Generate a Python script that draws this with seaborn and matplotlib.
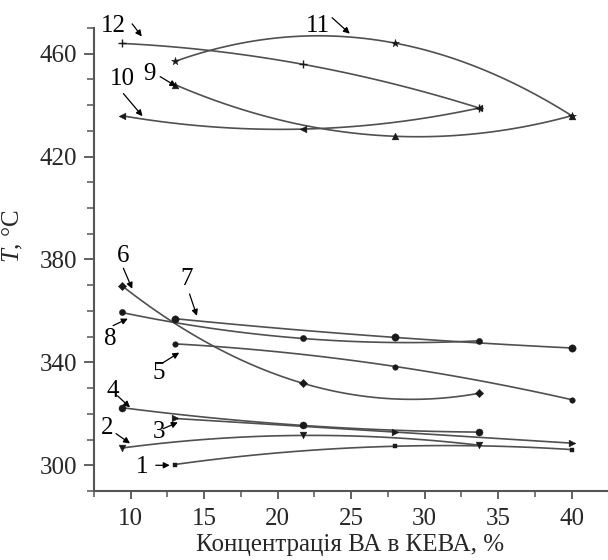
import numpy as np
import pandas as pd
import matplotlib
matplotlib.use("Agg")
import matplotlib.pyplot as plt
import seaborn as sns
from matplotlib.ticker import MultipleLocator

sns.set_theme(style="ticks")
plt.rcParams['font.family'] = ['Liberation Serif', 'DejaVu Serif']
plt.rcParams['mathtext.fontset'] = 'custom'
plt.rcParams['mathtext.rm'] = 'Liberation Serif'
plt.rcParams['mathtext.it'] = 'Liberation Serif:italic'

# ---- data ----
x_even = [9.4, 21.7, 33.7]
x_odd = [13.0, 28.0, 40.0]
t1 = [300.3, 307.4, 306.1]
t2 = [306.7, 311.6, 307.8]
t3 = [318.2, 312.9, 308.6]
t4 = [322.4, 315.5, 312.9]
t5 = [347.2, 338.4, 325.5]
t6 = [369.8, 331.9, 328.0]
t7 = [357.0, 349.7, 345.6]
t8 = [359.4, 349.3, 348.4]
t9 = [448.0, 427.9, 435.9]
t10 = [435.9, 430.7, 438.9]
t11 = [457.0, 464.1, 435.9]
t12 = [464.0, 455.9, 438.9]
series_names = ['1', '2', '3', '4', '5', '6', '7', '8', '9', '10', '11', '12']
series_y = [t1, t2, t3, t4, t5, t6, t7, t8, t9, t10, t11, t12]
series_x = [x_odd, x_even, x_odd, x_even, x_odd, x_even,
            x_odd, x_even, x_odd, x_even, x_odd, x_even]

# ---- styles ----
markers = ['s', 'v', '>', 'o', 'o', 'D', 'o', 'o', '^', '<', '*', '+']
msizes = [12, 24, 24, 26, 16, 18, 28, 20, 24, 24, 36, 26]
line_color = '#505050'
mark_color = '#1a1a1a'

# label text positions and arrow tips (data coords)
label_pos = [(10.8, 299.2), (8.4, 314.3), (11.9, 312.8), (8.8, 329.0),
             (11.9, 335.7), (9.45, 381.4), (13.8, 372.5), (8.6, 349.2),
             (11.3, 452.3), (9.45, 450.0), (22.7, 470.6), (8.8, 470.6)]
arrow_tip = [(12.65, 300.0), (9.95, 308.5), (13.2, 316.7), (9.95, 322.5),
             (13.3, 343.8), (10.1, 368.6), (14.5, 358.1), (9.8, 357.0),
             (13.1, 447.3), (10.8, 435.7), (24.9, 467.8), (10.75, 466.7)]
arrow_tail = [(11.7, 300.0), (9.0, 312.3), (12.2, 314.2), (9.1, 327.0),
              (12.2, 339.9), (9.5, 376.6), (14.0, 366.6), (8.8, 354.3),
              (12.0, 451.1), (9.5, 444.5), (23.7, 474.0), (10.1, 471.6)]

rows = []
for name, xs, ys in zip(series_names, series_x, series_y):
    for xv, yv in zip(xs, ys):
        rows.append({'series': name, 'x': xv, 'y': yv})
df = pd.DataFrame(rows)

fig = plt.figure(figsize=(6.08, 5.6), dpi=100)
ax = fig.add_axes([94 / 608, 1 - 491 / 560, 513 / 608, 463 / 560])

for name, mk, ms in zip(series_names, markers, msizes):
    sub = df[df['series'] == name]
    sns.regplot(data=sub, x='x', y='y', order=2, ci=None, scatter=False,
                ax=ax, line_kws=dict(color=line_color, lw=1.2))
    sns.scatterplot(data=sub, x='x', y='y', marker=mk, s=ms, color=mark_color,
                    edgecolor=mark_color, linewidth=1.0 if mk == '+' else 0.3,
                    ax=ax, zorder=3, legend=False)

for name, (tx, ty), (hx, hy), (sx, sy) in zip(series_names, label_pos, arrow_tip, arrow_tail):
    ax.text(tx, ty, name, fontsize=18, ha='center', va='center',
            color='black', clip_on=False)
    ax.annotate('', xy=(hx, hy), xytext=(sx, sy), annotation_clip=False,
                arrowprops=dict(arrowstyle='-|>', color='black', lw=0.9,
                                mutation_scale=9, shrinkA=0, shrinkB=0))

ax.set_xlim(7.5, 42.4)
ax.set_ylim(290, 470)
ax.xaxis.set_major_locator(MultipleLocator(5))
ax.xaxis.set_minor_locator(MultipleLocator(2.5))
ax.yaxis.set_major_locator(MultipleLocator(40))
ax.yaxis.set_minor_locator(MultipleLocator(10))
ax.set_xticks([10, 15, 20, 25, 30, 35, 40])
ax.set_yticks([300, 340, 380, 420, 460])

sns.despine(ax=ax)
for sp in ['left', 'bottom']:
    ax.spines[sp].set_color('#555555')
    ax.spines[sp].set_linewidth(1.5)
ax.tick_params(axis='both', which='major', direction='out', labelsize=18,
               color='#555555', width=1.3)
ax.tick_params(axis='y', which='major', length=7, pad=5)
ax.tick_params(axis='y', which='minor', length=5, width=1.1, color='#555555')
ax.tick_params(axis='x', which='major', length=6, pad=6)
ax.tick_params(axis='x', which='minor', length=4, width=1.1, color='#555555')

ax.set_xlabel('Концентрація ВА в КЕВА, %', fontsize=18)
ax.set_ylabel(r'$T$, °C', fontsize=18)
ax.yaxis.set_label_coords(-0.135, 0.55)
ax.xaxis.set_label_coords(0.5, -0.093)

fig.savefig('out.png', dpi=100)
